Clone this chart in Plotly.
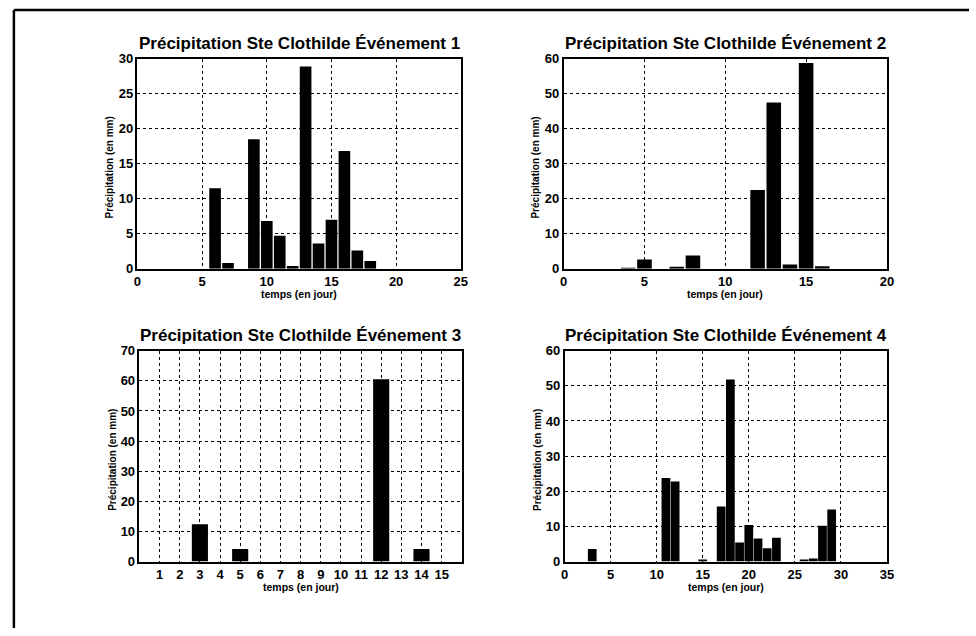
import plotly.graph_objects as go

# ---------------- data ----------------
titles = [
    "Précipitation Ste Clothilde Événement 1",
    "Précipitation Ste Clothilde Événement 2",
    "Précipitation Ste Clothilde Événement 3",
    "Précipitation Ste Clothilde Événement 4",
]
x_label = "temps (en jour)"
y_label = "Précipitation (en mm)"

event1_days = [6, 7, 9, 10, 11, 12, 13, 14, 15, 16, 17, 18]
event1_mm = [11.5, 0.8, 18.5, 6.8, 4.7, 0.4, 28.9, 3.6, 7.0, 16.8, 2.6, 1.1]

event2_days = [4, 5, 7, 8, 12, 13, 14, 15, 16]
event2_mm = [0.2, 2.6, 0.3, 3.8, 22.5, 47.5, 1.2, 58.8, 0.7]

event3_days = [1, 2, 3, 4, 5, 6, 7, 8, 9, 10, 11, 12, 13, 14, 15]
event3_mm = [0, 0, 12.4, 0, 4.2, 0, 0, 0, 0, 0, 0, 60.5, 0, 4.2, 0]

event4_days = [3, 11, 12, 15, 17, 18, 19, 20, 21, 22, 23, 26, 27, 28, 29]
event4_mm = [3.6, 23.8, 22.8, 0.6, 15.7, 51.8, 5.4, 10.4, 6.6, 3.8, 6.8, 0.6, 0.9, 10.2, 14.8]

x_ranges = [[0, 25], [0, 20], [0, 16], [0, 35]]
x_ticks = [
    [0, 5, 10, 15, 20, 25],
    [0, 5, 10, 15, 20],
    [1, 2, 3, 4, 5, 6, 7, 8, 9, 10, 11, 12, 13, 14, 15],
    [0, 5, 10, 15, 20, 25, 30, 35],
]
y_ranges = [[0, 30], [0, 60], [0, 70], [0, 60]]
y_ticks = [
    [0, 5, 10, 15, 20, 25, 30],
    [0, 10, 20, 30, 40, 50, 60],
    [0, 10, 20, 30, 40, 50, 60, 70],
    [0, 10, 20, 30, 40, 50, 60],
]

# ---------------- layout helpers ----------------
W, H = 976, 636


def fx(p):
    return p / W


def fy(p):
    return 1 - p / H


# axes boxes in pixel coords (left, right, top, bottom)
boxes = [
    (135, 462, 53, 268),
    (566, 893, 53, 268),
    (137, 463, 352, 568),
    (567, 893, 352, 568),
]
bar_widths = [0.9, 0.9, 0.8, 0.95]
series = [
    (event1_days, event1_mm),
    (event2_days, event2_mm),
    (event3_days, event3_mm),
    (event4_days, event4_mm),
]

FONT = "Liberation Sans"
fig = go.Figure()
layout = dict(
    width=W,
    height=H,
    margin=dict(l=0, r=0, t=0, b=0),
    paper_bgcolor="white",
    plot_bgcolor="white",
    showlegend=False,
    annotations=[],
    shapes=[],
    font=dict(family=FONT, color="black"),
)

for i, ((days, mm), box) in enumerate(zip(series, boxes)):
    n = i + 1
    xa = "x" if n == 1 else f"x{n}"
    ya = "y" if n == 1 else f"y{n}"
    fig.add_trace(
        go.Bar(
            x=days,
            y=mm,
            width=bar_widths[i],
            marker=dict(color="black", line=dict(width=0)),
            xaxis=xa,
            yaxis=ya,
        )
    )
    l, r, t, b = box
    axis_common = dict(
        showgrid=True,
        griddash="dot",
        gridcolor="black",
        gridwidth=1,
        zeroline=False,
        showline=True,
        mirror=True,
        linecolor="black",
        linewidth=1.5,
        ticks="",
        tickfont=dict(family=FONT, size=13, color="black", weight="bold"),
        fixedrange=True,
    )
    layout[f"xaxis{'' if n == 1 else n}"] = dict(
        axis_common,
        domain=[fx(l), fx(r)],
        anchor=ya,
        range=x_ranges[i],
        tickmode="array",
        tickvals=x_ticks[i],
        ticktext=[str(v) for v in x_ticks[i]],
    )
    layout[f"yaxis{'' if n == 1 else n}"] = dict(
        axis_common,
        domain=[fy(b), fy(t)],
        anchor=xa,
        range=y_ranges[i],
        tickmode="array",
        tickvals=y_ticks[i],
        ticktext=[str(v) for v in y_ticks[i]],
    )
    cx = (l + r) / 2
    # title
    layout["annotations"].append(
        dict(
            text=f"<b>{titles[i]}</b>",
            x=fx(cx), y=fy(t - 16), xref="paper", yref="paper",
            xanchor="center", yanchor="middle", showarrow=False,
            font=dict(family=FONT, size=17, color="black"),
        )
    )
    # x axis title
    layout["annotations"].append(
        dict(
            text=f"<b>{x_label}</b>",
            x=fx(cx), y=fy(b + 26), xref="paper", yref="paper",
            xanchor="center", yanchor="middle", showarrow=False,
            font=dict(family=FONT, size=10.5, color="black"),
        )
    )
    # y axis title
    layout["annotations"].append(
        dict(
            text=f"<b>{y_label}</b>",
            x=fx(l - 28), y=fy((t + b) / 2 + 4), xref="paper", yref="paper",
            xanchor="center", yanchor="middle", showarrow=False, textangle=-90,
            font=dict(family=FONT, size=10, color="black"),
        )
    )

# outer frame of the scanned page (top and left edges visible)
layout["shapes"].append(
    dict(type="line", xref="paper", yref="paper",
         x0=fx(10), x1=1.0, y0=fy(3), y1=fy(3),
         line=dict(color="black", width=2.5))
)
layout["shapes"].append(
    dict(type="line", xref="paper", yref="paper",
         x0=fx(10), x1=fx(10), y0=fy(3), y1=0.0,
         line=dict(color="black", width=2.5))
)

fig.update_layout(**layout)
fig.write_html(
    "out.html",
    config={"displayModeBar": False},
    post_script="document.body.style.margin='0';document.body.style.overflow='hidden';",
)
